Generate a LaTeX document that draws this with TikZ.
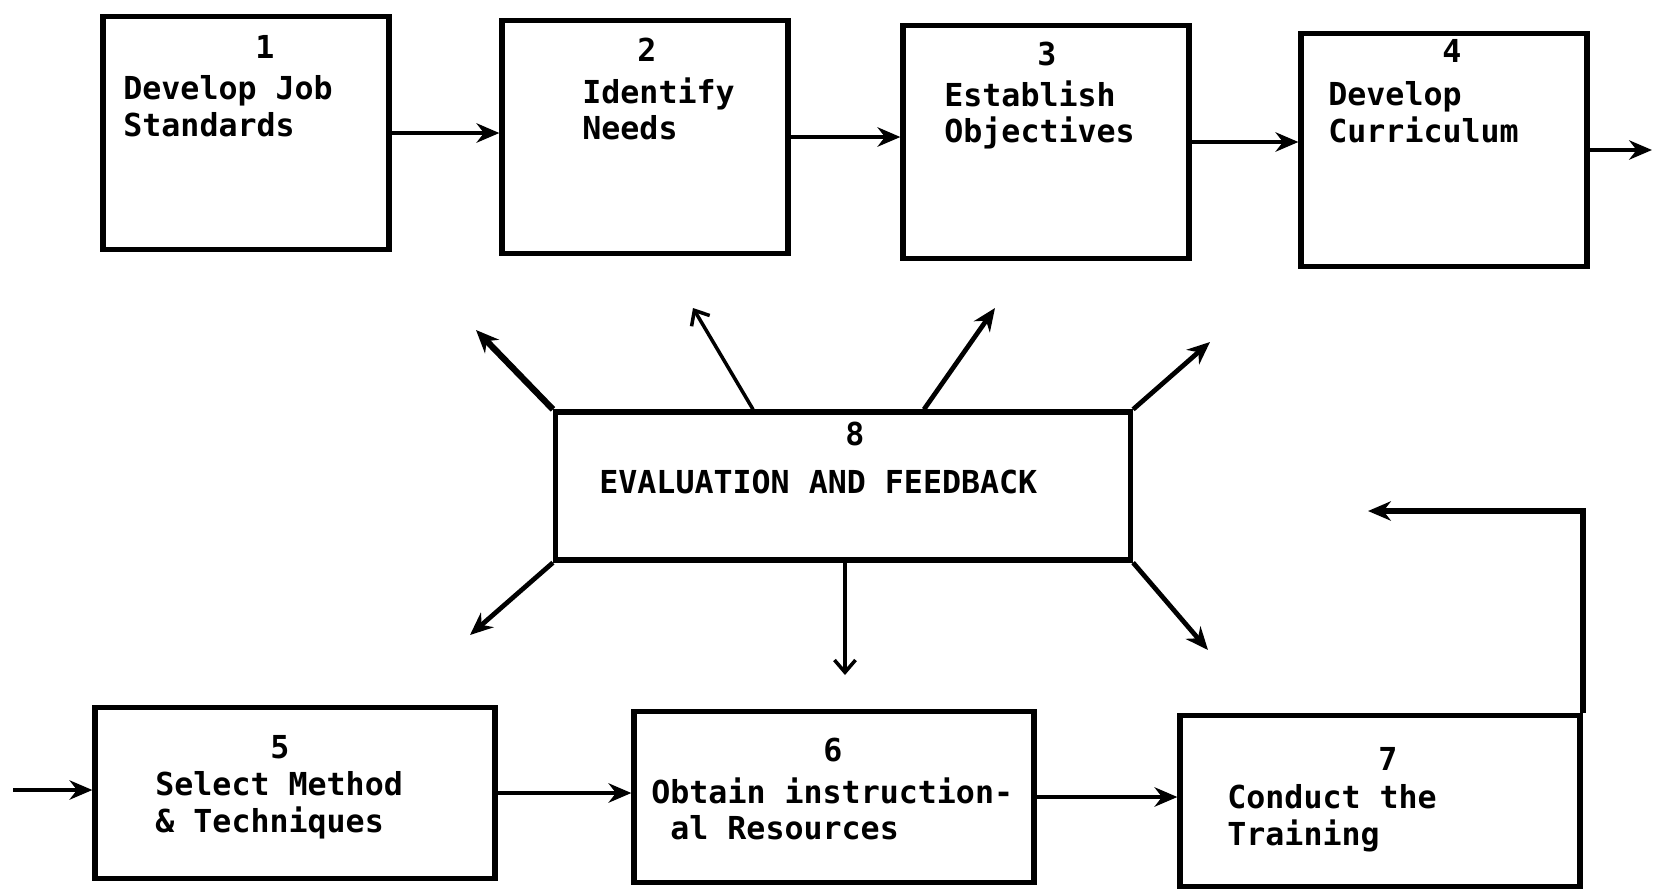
\documentclass[tikz,border=0pt]{standalone}
\usepackage{fontspec}
\setmonofont{DejaVu Sans Mono}
\usetikzlibrary{arrows.meta, positioning}

\begin{document}
\begin{tikzpicture}[
  x=0.02cm, y=-0.02cm,
  every node/.style = {font=\ttfamily\bfseries\fontsize{18pt}{21pt}\selectfont},
  topbox/.style  = {rectangle, draw, line width=3pt, inner sep=0pt,
                    minimum width=5.72cm, minimum height=4.66cm},
  lowbox/.style  = {rectangle, draw, line width=3pt, inner sep=0pt,
                    minimum width=8cm, minimum height=3.42cm},
  evalbox/.style = {rectangle, draw, line width=3pt, inner sep=0pt,
                    minimum width=11.5cm, minimum height=2.96cm},
  num/.style     = {anchor=north, inner sep=0pt},
  txt/.style     = {anchor=north west, inner sep=0pt, align=left},
  arr/.style     = {-{Stealth[length=13pt, width=11pt]}, line width=2.7pt},
  barb/.style    = {-{Straight Barb[length=7pt, width=12pt]}, line width=2pt}
]
\useasboundingbox (0,0) rectangle (1654,890);

% top row
\node[topbox] (standards)  at (246,133) {};
\node[topbox] (needs)      at (645,137) {};
\node[topbox] (objectives) at (1046,142) {};
\node[topbox] (curriculum) at (1444,150) {};

\node[num] (n1) at (265,35) {1};
\node[txt] (standards_txt) at (123,75) {Develop Job\\Standards};
\node[num] (n2) at (647,38) {2};
\node[txt] (needs_txt) at (582,77) {Identify\\Needs};
\node[num] (n3) at (1047,42) {3};
\node[txt] (objectives_txt) at (944,80) {Establish\\Objectives};
\node[num] (n4) at (1452,39) {4};
\node[txt] (curriculum_txt) at (1328,81) {Develop\\Curriculum};

% evaluation
\node[evalbox] (evaluation) at (843,486) {};
\node[num] (n8) at (855,422) {8};
\node[txt] (evaluation_txt) at (599,470) {EVALUATION AND FEEDBACK};

% bottom row
\node[lowbox] (methods)   at (295,793) {};
\node[lowbox] (resources) at (834,797) {};
\node[lowbox] (training)  at (1380,801) {};

\node[num] (n5) at (280,735) {5};
\node[txt] (methods_txt) at (155,771) {Select Method\\\& Techniques};
\node[num] (n6) at (833,738) {6};
\node[txt] (resources_txt) at (651,777) {Obtain instruction-\\\hspace*{0.6em}al Resources};
\node[num] (n7) at (1388,747) {7};
\node[txt] (training_txt) at (1227,784) {Conduct the\\Training};

\coordinate (out4) at (1652,147);
\coordinate (in5)  at (13,790);
\coordinate (fb)   at (1368,511);
\coordinate (f1) at (476,330);
\coordinate (f2) at (693,308);
\coordinate (f3) at (995,308);
\coordinate (f4) at (1210,342);
\coordinate (f5) at (470,635);
\coordinate (f6) at (845,675);
\coordinate (f7) at (1208,650);

\draw[arr] (standards.east)  -- (standards.east -| needs.west);
\draw[arr] (needs.east)      -- (needs.east -| objectives.west);
\draw[arr] (objectives.east) -- (objectives.east -| curriculum.west);
\draw[arr] (curriculum.east) -- (curriculum.east -| out4);
\draw[arr] (in5) -- (in5 -| methods.west);
\draw[arr] (methods.east)    -- (methods.east -| resources.west);
\draw[arr] (resources.east)  -- (resources.east -| training.west);
\draw[arr, line width=3.4pt] (training.north east) -- (training.north east |- fb) -- (fb);

\draw[arr, line width=3.6pt] (evaluation.north west) -- (f1);
\draw[barb] ([xshift=-1.8cm]evaluation.north) -- (f2);
\draw[arr] ([xshift=1.62cm]evaluation.north) -- (f3);
\draw[arr] (evaluation.north east) -- (f4);
\draw[arr] (evaluation.south west) -- (f5);
\draw[barb] (evaluation.south -| f6) -- (f6);
\draw[arr] (evaluation.south east) -- (f7);
\end{tikzpicture}
\end{document}
